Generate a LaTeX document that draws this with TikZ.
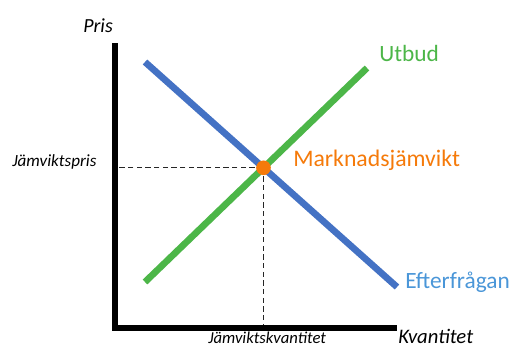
\documentclass[tikz,border=0pt]{standalone}
\usepackage{fontspec}
\setmainfont{Carlito}
\usetikzlibrary{intersections}
\definecolor{supgreen}{RGB}{76,182,72}
\definecolor{demblue}{RGB}{68,114,196}
\definecolor{demtext}{RGB}{74,150,216}
\definecolor{eqorange}{RGB}{245,122,10}
\tikzset{
  axisline/.style={line width=4.5pt, black},
  curveline/.style={line width=5pt},
  guide/.style={line width=1pt, black!85, dash pattern=on 4pt off 2.5pt},
  lbl/.style={anchor=base west, inner sep=0pt},
}
\begin{document}
\begin{tikzpicture}[x=0.75pt,y=-0.75pt]
\useasboundingbox (0,0) rectangle (516,347);
\coordinate (ytop) at (115,43);
\coordinate (origin) at (115,328);
\coordinate (xend) at (397,328);
\coordinate (d1) at (145,62);
\coordinate (d2) at (397,287);
\coordinate (s1) at (145,282);
\coordinate (s2) at (367,68);
\path[name path=dem] (d1) -- (d2);
\path[name path=sup] (s1) -- (s2);
\path[name intersections={of=dem and sup, by=eq}];
\draw[guide] (eq) -- ([xshift=3pt]eq -| ytop);
\draw[guide] (eq) -- (eq |- origin);
\draw[axisline] (ytop) -- (origin) -- (xend);
\draw[curveline, demblue] (d1) -- (d2);
\draw[curveline, supgreen] (s1) -- (s2);
\node[circle, fill=eqorange, minimum size=11pt, inner sep=0pt] (dot) at (eq) {};
\node[lbl, font=\fontsize{15}{18}\selectfont\itshape] (pris) at (83,32) {Pris};
\node[lbl, font=\fontsize{12.8}{15}\selectfont\itshape] (jpris) at (12,166) {Jämviktspris};
\node[lbl, font=\fontsize{12.5}{15}\selectfont\itshape] (jkvant) at (208,343) {Jämviktskvantitet};
\node[lbl, font=\fontsize{15.5}{18}\selectfont\itshape] (kvant) at (398,343) {Kvantitet};
\node[lbl, font=\fontsize{17.5}{20}\selectfont, text=supgreen] (utbud) at (379,61) {Utbud};
\node[lbl, font=\fontsize{17.8}{20}\selectfont, text=eqorange] (mark) at (293,166) {Marknadsjämvikt};
\node[lbl, font=\fontsize{17.5}{20}\selectfont, text=demtext] (eft) at (405,288) {Efterfrågan};
\end{tikzpicture}
\end{document}
